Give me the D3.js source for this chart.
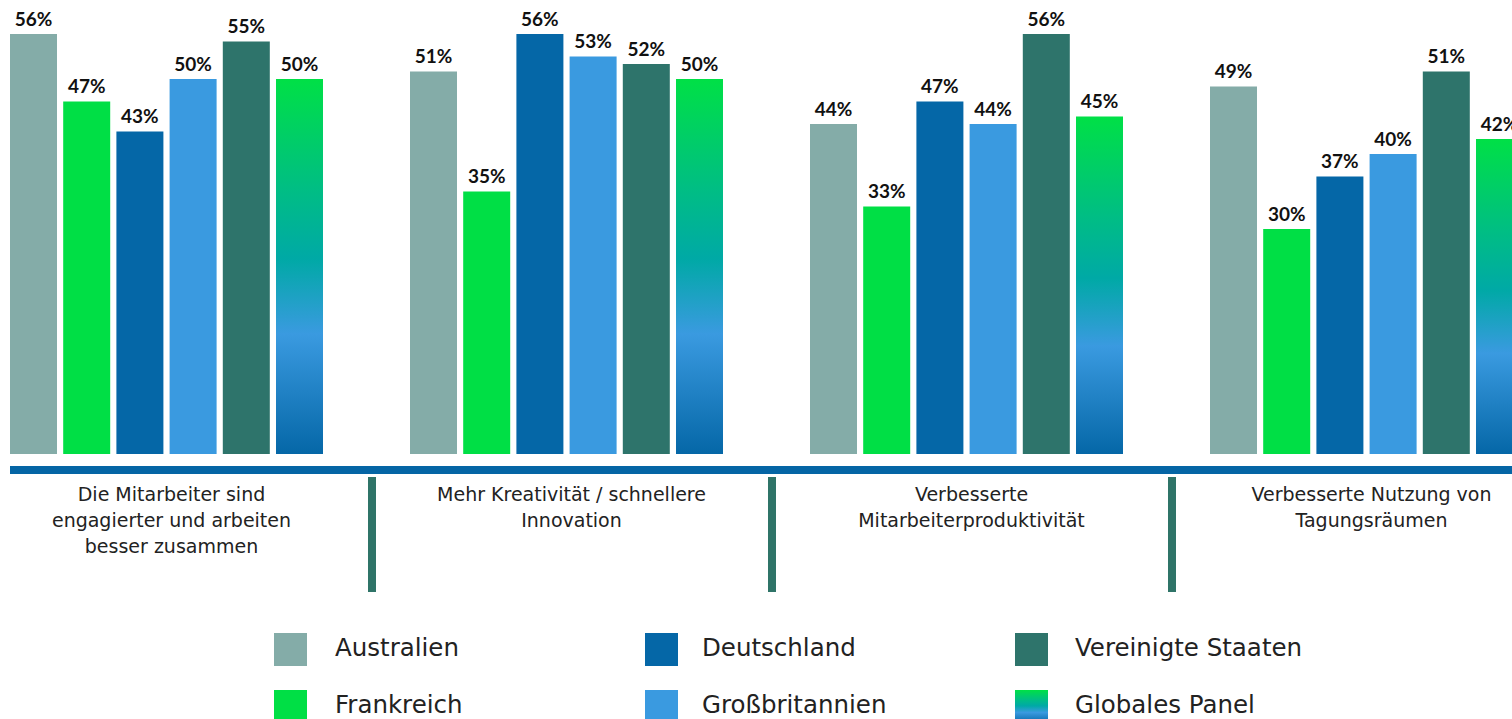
<!DOCTYPE html>
<html><head><meta charset="utf-8">
<script src="https://cdn.jsdelivr.net/npm/d3@7"></script>
<style>body{margin:0;background:#fff}svg{display:block}</style>
</head><body>
<svg id="c" width="1512" height="719"></svg>
<script>
const categories = [
  ["Die Mitarbeiter sind","engagierter und arbeiten","besser zusammen"],
  ["Mehr Kreativität / schnellere","Innovation"],
  ["Verbesserte","Mitarbeiterproduktivität"],
  ["Verbesserte Nutzung von","Tagungsräumen"]
];
const series = ["Australien","Frankreich","Deutschland","Großbritannien","Vereinigte Staaten","Globales Panel"];
const australien = [56,51,44,49];
const frankreich = [47,35,33,30];
const deutschland = [43,56,47,37];
const grossbritannien = [50,53,44,40];
const vereinigteStaaten = [55,52,56,51];
const globalesPanel = [50,50,45,42];
const values = [australien,frankreich,deutschland,grossbritannien,vereinigteStaaten,globalesPanel];
const colors = ["#84aca8","#00df45","#0567a7","#3a9ae0","#2e746b","url(#grad)"];
const legendOrder = [[0,2,4],[1,3,5]];

const svg = d3.select("#c");
const defs = svg.append("defs");
const g = defs.append("linearGradient").attr("id","grad").attr("x1",0).attr("y1",0).attr("x2",0).attr("y2",1);
[[0,"#00e046"],[0.3,"#00bd85"],[0.48,"#00a9a6"],[0.68,"#3a9ae0"],[1,"#0567a7"]].forEach(([o,c])=>g.append("stop").attr("offset",o).attr("stop-color",c));

const x0 = d3.scaleBand().domain(d3.range(categories.length)).range([10,1523]).paddingInner(0.2175).paddingOuter(0);
const x1 = d3.scaleBand().domain(d3.range(series.length)).range([0,x0.bandwidth()]).paddingInner(0.1165).paddingOuter(0);
const y = d3.scaleLinear().domain([0,56]).range([454,34]);

const textFont = "'DejaVu Sans',sans-serif";
const numFont = "'Lato','DejaVu Sans',sans-serif";

const grp = svg.selectAll("g.grp").data(categories).join("g").attr("class","grp")
  .attr("transform",(d,i)=>`translate(${x0(i)},0)`);
grp.each(function(d,ci){
  const sel = d3.select(this);
  series.forEach((s,si)=>{
    const v = values[si][ci];
    sel.append("rect").attr("x",x1(si)).attr("y",y(v)).attr("width",x1.bandwidth()).attr("height",y(0)-y(v)).attr("fill",colors[si]);
    sel.append("text").attr("x",x1(si)+x1.bandwidth()/2).attr("y",y(v)-8.5).attr("text-anchor","middle")
      .attr("font-family",numFont).attr("font-weight","bold").attr("font-size",19).attr("fill","#111").text(v+"%");
  });
});

// axis line
svg.append("rect").attr("x",10).attr("y",466).attr("width",1502).attr("height",8).attr("fill","#0565a5");

// dividers
[1,2,3].forEach(i=>{
  const xc = x0(i) - 38;
  svg.append("rect").attr("x",xc-4).attr("y",477).attr("width",8).attr("height",115).attr("fill","#2f7468");
});

// category labels
categories.forEach((lines,i)=>{
  const cx = x0(i)+x0.bandwidth()/2+5;
  const t = svg.append("text").attr("text-anchor","middle").attr("font-family",textFont).attr("font-size",19).attr("fill","#222");
  lines.forEach((l,k)=>t.append("tspan").attr("x",cx).attr("y",501+k*26).text(l));
});

// legend
const colX = [274,645,1015];
const textX = [335,702,1075];
legendOrder.forEach((row,r)=>{
  row.forEach((si,c)=>{
    const yy = 633 + r*57;
    svg.append("rect").attr("x",colX[c]).attr("y",yy).attr("width",33).attr("height",33).attr("fill",colors[si]);
    svg.append("text").attr("x",textX[c]).attr("y",yy+23).attr("font-family",textFont).attr("font-size",24.5).attr("fill","#222").text(series[si]);
  });
});
</script>
</body></html>
